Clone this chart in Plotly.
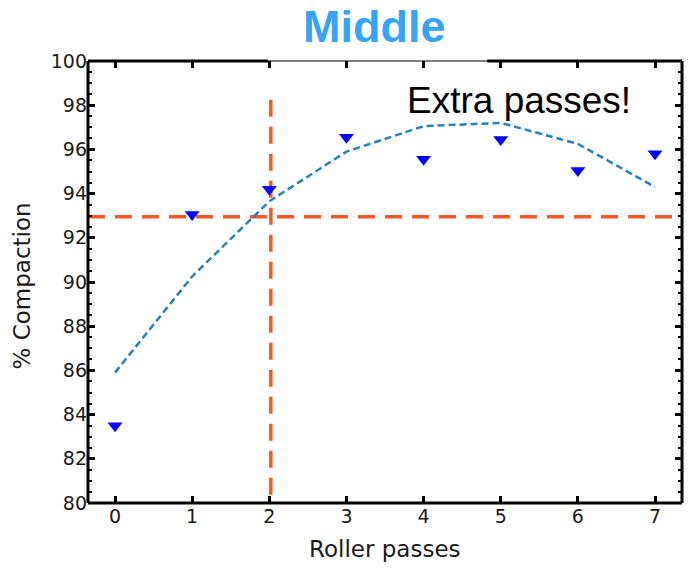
import plotly.graph_objects as go

# ---- data ----
roller_passes = [0, 1, 2, 3, 4, 5, 6, 7]
compaction_measured = [83.5, 93.05, 94.2, 96.55, 95.55, 96.45, 95.05, 95.8]
compaction_fit = [85.9, 90.25, 93.65, 95.9, 97.05, 97.2, 96.25, 94.3]
target_compaction = 92.95
target_passes = 2.02
vline_top = 98.25
x_range = [-0.35, 7.35]
y_range = [80, 100]
x_ticks = [0, 1, 2, 3, 4, 5, 6, 7]
y_ticks = [80, 82, 84, 86, 88, 90, 92, 94, 96, 98, 100]

ORANGE = "#F15A22"
TICKFONT = dict(family="DejaVu Sans", size=19, color="#1a1a1a")

fig = go.Figure()

# reference lines
fig.add_trace(go.Scatter(
    x=x_range, y=[target_compaction, target_compaction], mode="lines",
    line=dict(color=ORANGE, width=3.5, dash="17px,10px"), hoverinfo="skip", showlegend=False))
fig.add_trace(go.Scatter(
    x=[target_passes, target_passes], y=[vline_top, y_range[0]], mode="lines",
    line=dict(color=ORANGE, width=3.5, dash="17px,10px"), hoverinfo="skip", showlegend=False))

# fit line
fig.add_trace(go.Scatter(
    x=roller_passes, y=compaction_fit, mode="lines",
    line=dict(color="#2580C0", width=2.5, dash="7px,4px"), showlegend=False))

# measured points
fig.add_trace(go.Scatter(
    x=roller_passes, y=compaction_measured, mode="markers",
    marker=dict(symbol="triangle-down", size=13, color="#0000FF", line=dict(width=0)),
    showlegend=False))

# frame drawn as shapes (top edge thinner in the middle as in reference)
frame = [
    dict(x0=0, x1=0, y0=0, y1=1, w=3),
    dict(x0=1, x1=1, y0=0, y1=1, w=3),
    dict(x0=0, x1=1, y0=0, y1=0, w=3),
    dict(x0=0, x1=0.303, y0=1, y1=1, w=3),
    dict(x0=0.303, x1=0.672, y0=1, y1=1, w=1.2),
    dict(x0=0.672, x1=1, y0=1, y1=1, w=3),
]
for f in frame:
    fig.add_shape(type="line", xref="x domain", yref="y domain",
                  x0=f["x0"], x1=f["x1"], y0=f["y0"], y1=f["y1"],
                  line=dict(color="black", width=f["w"]), layer="above")

fig.update_xaxes(
    range=x_range, tickvals=x_ticks, ticks="inside", ticklen=7, tickwidth=2.5,
    tickcolor="black", mirror="ticks", showline=False, showgrid=False, zeroline=False,
    tickfont=TICKFONT)
fig.update_yaxes(
    range=y_range, tickvals=y_ticks, ticks="inside", ticklen=7, tickwidth=2.5,
    tickcolor="black", mirror="ticks", showline=False, showgrid=False, zeroline=False,
    tickfont=TICKFONT,
    minor=dict(dtick=0.5, ticks="inside", ticklen=4, tickwidth=1.5, tickcolor="black"))

fig.add_annotation(text="<b>Middle</b>", xref="paper", yref="paper", x=0.483, y=1.078,
                   xanchor="center", yanchor="middle", showarrow=False,
                   font=dict(family="Liberation Sans", size=45, color="#36A3F7"))
fig.add_annotation(text="Extra passes!", xref="x", yref="y", x=5.24, y=98.2,
                   xanchor="center", yanchor="middle", showarrow=False,
                   font=dict(family="Liberation Sans", size=37, color="black"))
fig.add_annotation(text="Roller passes", xref="paper", yref="paper", x=0.5, y=-0.104,
                   xanchor="center", yanchor="middle", showarrow=False,
                   font=dict(family="DejaVu Sans", size=23, color="#1a1a1a"))
fig.add_annotation(text="% Compaction", xref="paper", yref="paper", x=-0.111, y=0.49,
                   xanchor="center", yanchor="middle", showarrow=False, textangle=-90,
                   font=dict(family="DejaVu Sans", size=23, color="#1a1a1a"))

# page body has an 8px default margin, so the figure is offset by 8px
fig.update_layout(
    width=684, height=563,
    margin=dict(l=80, r=10, t=53, b=68),
    paper_bgcolor="white", plot_bgcolor="white",
    showlegend=False,
)

fig.write_html("out.html")
